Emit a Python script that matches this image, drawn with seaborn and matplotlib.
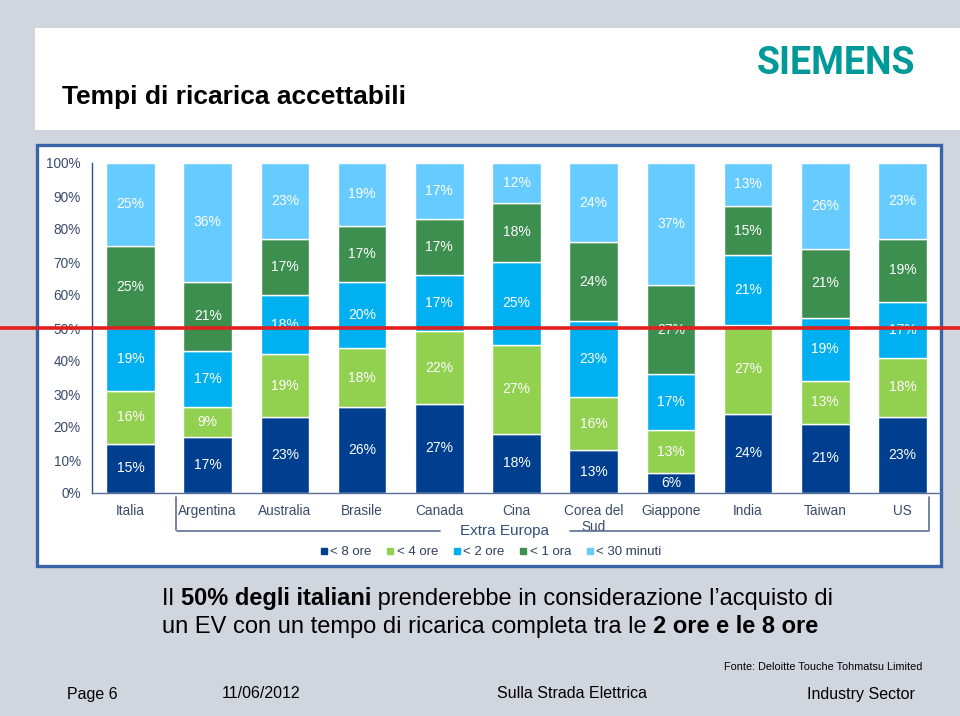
import numpy as np
import matplotlib.pyplot as plt
import seaborn as sns
from matplotlib.lines import Line2D
from matplotlib.patches import Rectangle

countries = ['Italia', 'Argentina', 'Australia', 'Brasile', 'Canada', 'Cina',
             'Corea del\nSud', 'Giappone', 'India', 'Taiwan', 'US']
series = ['< 8 ore', '< 4 ore', '< 2 ore', '< 1 ora', '< 30 minuti']
lt_8h = [15, 17, 23, 26, 27, 18, 13, 6, 24, 21, 23]
lt_4h = [16, 9, 19, 18, 22, 27, 16, 13, 27, 13, 18]
lt_2h = [19, 17, 18, 20, 17, 25, 23, 17, 21, 19, 17]
lt_1h = [25, 21, 17, 17, 17, 18, 24, 27, 15, 21, 19]
lt_30m = [25, 36, 23, 19, 17, 12, 24, 37, 13, 26, 23]
yticks = [0, 10, 20, 30, 40, 50, 60, 70, 80, 90, 100]

colors = ['#003f8f', '#92d050', '#00b0f0', '#3d8f50', '#66ccff']
BG = '#d1d5de'
AXCOL = '#3b4a6b'
W, H = 960, 716

sns.set_style('white')
plt.rcParams['font.family'] = ['Liberation Sans', 'DejaVu Sans']
plt.rcParams['text.color'] = 'black'
NARROW = ['Liberation Sans Narrow', 'Liberation Sans', 'DejaVu Sans']


def fx(px):
    return px / W


def fy(py):
    return 1 - py / H


fig = plt.figure(figsize=(9.6, 7.16), dpi=100, facecolor=BG)

# header band and chart panel
fig.patches.append(Rectangle((fx(35), fy(130)), 1, 102 / H, transform=fig.transFigure,
                             facecolor='white', edgecolor='none', zorder=-2))
fig.patches.append(Rectangle((fx(37), fy(566)), (941 - 37) / W, (566 - 145) / H,
                             transform=fig.transFigure, facecolor='white',
                             edgecolor='#3a64a8', linewidth=2.4, zorder=-2))

fig.text(fx(62), fy(97), 'Tempi di ricarica accettabili', fontsize=19, weight='bold',
         va='center', ha='left', color='black')
fig.text(fx(915), fy(64), 'SIEMENS', fontsize=27, weight='bold', color='#009999',
         family=['Roboto', 'DejaVu Sans'], va='center', ha='right')

ax = fig.add_axes([fx(92), fy(493), (941 - 92) / W, 330 / H])
ax.set_facecolor('none')

values = [lt_8h, lt_4h, lt_2h, lt_1h, lt_30m]
bottom = np.zeros(len(countries))
for name, vals, col in zip(series, values, colors):
    sns.barplot(x=countries, y=vals, color=col, saturation=1, width=0.63,
                bottom=bottom, edgecolor='white', linewidth=1, errorbar=None,
                ax=ax, label=name)
    ax.bar_label(ax.containers[-1], labels=[f'{v}%' for v in vals],
                 label_type='center', color='white', fontsize=10)
    bottom += np.array(vals)

ax.set_ylim(0, 100)
ax.set_xlim(-0.5, len(countries) - 0.5)
ax.set_yticks(yticks)
ax.set_yticklabels([f'{v}%' for v in yticks])
ax.tick_params(axis='both', length=0, labelsize=9.8, labelcolor=AXCOL)
ax.tick_params(axis='y', pad=8)
ax.tick_params(axis='x', pad=8)
ax.set_xlabel('')
ax.set_ylabel('')
for s in ['top', 'right']:
    ax.spines[s].set_visible(False)
ax.spines['left'].set_color('#2f4f8a')
ax.spines['bottom'].set_color('#5b6f94')
ax.spines['left'].set_linewidth(1)
ax.spines['bottom'].set_linewidth(1)
if ax.get_legend():
    ax.get_legend().remove()

# 50% reference line across the whole slide
ax.axhline(50, xmin=-92 / 849, xmax=(960 - 92) / 849, color='#e31e1e', lw=2.6,
           clip_on=False, zorder=10)

# Extra Europa bracket
br = '#5b6f94'
for xs, ys in [([176, 176], [497, 530]), ([177, 440], [531, 531]),
               ([570, 928], [531, 531]), ([929, 929], [497, 531])]:
    fig.add_artist(Line2D([fx(x) for x in xs], [fy(y) for y in ys], color=br, lw=1.2))
fig.text(fx(505), fy(531), 'Extra Europa', fontsize=11, color='#2f4f7c',
         ha='center', va='center')

handles = [Line2D([], [], marker='s', ms=4.5, ls='', color=c, label=n)
           for n, c in zip(series, colors)]
fig.legend(handles=handles, loc='center', bbox_to_anchor=(fx(490), fy(552)), ncol=5,
           frameon=False, fontsize=9.5, handletextpad=0.1, columnspacing=1.0,
           handlelength=0.8, labelcolor='#2f3f60')

# bottom statement with mixed weights
renderer = fig.canvas.get_renderer()


def rich_line(x, y, parts):
    for txt, bold in parts:
        t = fig.text(x, y, txt, fontsize=17, weight='bold' if bold else 'normal',
                     family=NARROW, va='baseline', ha='left', color='black')
        x += t.get_window_extent(renderer).width / fig.bbox.width


rich_line(fx(162), fy(605), [('Il ', False), ('50% degli italiani', True),
                             (' prenderebbe in considerazione l\u2019acquisto di', False)])
rich_line(fx(162), fy(633), [('un EV con un tempo di ricarica completa tra le ', False),
                             ('2 ore e le 8 ore', True)])

fig.text(fx(922), fy(667), 'Fonte: Deloitte Touche Tohmatsu Limited', fontsize=7.8,
         family=NARROW, ha='right', va='center', color='black')
for x, txt, ha in [(67, 'Page 6', 'left'), (222, '11/06/2012', 'left'),
                   (497, 'Sulla Strada Elettrica', 'left'), (915, 'Industry Sector', 'right')]:
    fig.text(fx(x), fy(694), txt, fontsize=11.5, family=NARROW, ha=ha, va='center',
             color='black')

fig.savefig('out.png', dpi=100, facecolor=BG)
